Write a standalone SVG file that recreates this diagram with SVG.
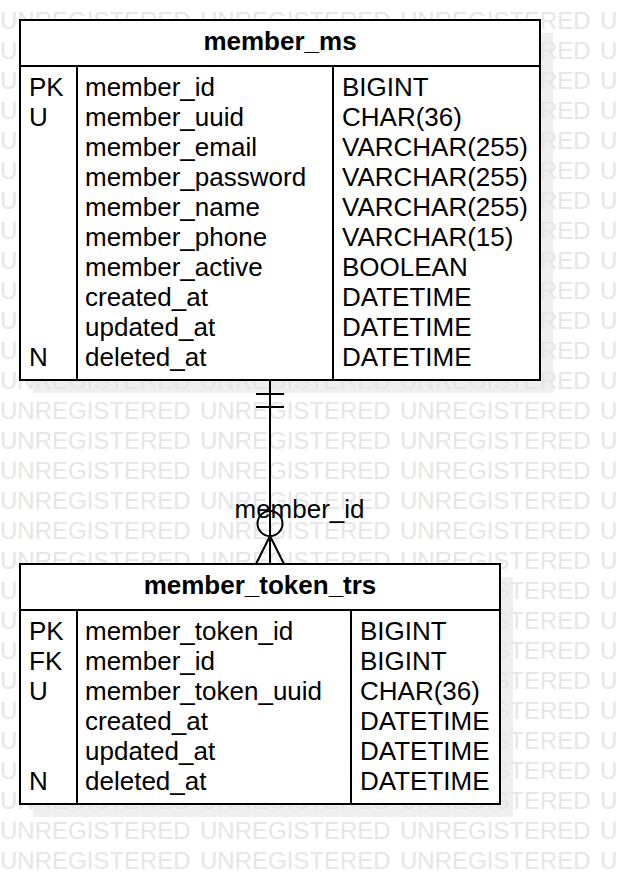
<svg xmlns="http://www.w3.org/2000/svg" width="618" height="884" viewBox="0 0 618 884">
<style>
.wm{font-family:"Liberation Sans",Arial,sans-serif;font-size:24px;fill:#e6e6e6}
.t{font-family:"Liberation Sans",Arial,sans-serif;font-size:26px;fill:#000}
.h{font-family:"Liberation Sans",Arial,sans-serif;font-size:26px;font-weight:bold;fill:#000;text-anchor:middle}
.box{fill:#fff;stroke:#000;stroke-width:2}
.ln{stroke:#000;stroke-width:2;fill:none}
.sh{fill:#efefef}
</style>
<rect width="618" height="884" fill="#fff"/>
<g id="shadows">
<rect class="sh" x="33" y="33" width="520" height="360"/>
<rect class="sh" x="33" y="577" width="480" height="240"/>
</g>
<g id="watermark">
<text class="wm" y="29"><tspan x="0">UNREGISTERED</tspan><tspan x="200">UNREGISTERED</tspan><tspan x="400">UNREGISTERED</tspan><tspan x="600">U</tspan></text>
<text class="wm" y="59"><tspan x="0">U</tspan><tspan x="540">RED</tspan><tspan x="600">U</tspan></text>
<text class="wm" y="89"><tspan x="0">U</tspan><tspan x="540">RED</tspan><tspan x="600">U</tspan></text>
<text class="wm" y="119"><tspan x="0">U</tspan><tspan x="540">RED</tspan><tspan x="600">U</tspan></text>
<text class="wm" y="149"><tspan x="0">U</tspan><tspan x="540">RED</tspan><tspan x="600">U</tspan></text>
<text class="wm" y="179"><tspan x="0">U</tspan><tspan x="540">RED</tspan><tspan x="600">U</tspan></text>
<text class="wm" y="209"><tspan x="0">U</tspan><tspan x="540">RED</tspan><tspan x="600">U</tspan></text>
<text class="wm" y="239"><tspan x="0">U</tspan><tspan x="540">RED</tspan><tspan x="600">U</tspan></text>
<text class="wm" y="269"><tspan x="0">U</tspan><tspan x="540">RED</tspan><tspan x="600">U</tspan></text>
<text class="wm" y="299"><tspan x="0">U</tspan><tspan x="540">RED</tspan><tspan x="600">U</tspan></text>
<text class="wm" y="329"><tspan x="0">U</tspan><tspan x="540">RED</tspan><tspan x="600">U</tspan></text>
<text class="wm" y="359"><tspan x="0">U</tspan><tspan x="540">RED</tspan><tspan x="600">U</tspan></text>
<text class="wm" y="389"><tspan x="0">UNREGISTERED</tspan><tspan x="200">UNREGISTERED</tspan><tspan x="400">UNREGISTERED</tspan><tspan x="600">U</tspan></text>
<text class="wm" y="419"><tspan x="0">UNREGISTERED</tspan><tspan x="200">UNREGISTERED</tspan><tspan x="400">UNREGISTERED</tspan><tspan x="600">U</tspan></text>
<text class="wm" y="449"><tspan x="0">UNREGISTERED</tspan><tspan x="200">UNREGISTERED</tspan><tspan x="400">UNREGISTERED</tspan><tspan x="600">U</tspan></text>
<text class="wm" y="479"><tspan x="0">UNREGISTERED</tspan><tspan x="200">UNREGISTERED</tspan><tspan x="400">UNREGISTERED</tspan><tspan x="600">U</tspan></text>
<text class="wm" y="509"><tspan x="0">UNREGISTERED</tspan><tspan x="200">UNREGISTERED</tspan><tspan x="400">UNREGISTERED</tspan><tspan x="600">U</tspan></text>
<text class="wm" y="539"><tspan x="0">UNREGISTERED</tspan><tspan x="200">UNREGISTERED</tspan><tspan x="400">UNREGISTERED</tspan><tspan x="600">U</tspan></text>
<text class="wm" y="569"><tspan x="0">UNREGISTERED</tspan><tspan x="200">UNREGISTERED</tspan><tspan x="400">UNREGISTERED</tspan><tspan x="600">U</tspan></text>
<text class="wm" y="599"><tspan x="0">U</tspan><tspan x="493.3">STERED</tspan><tspan x="600">U</tspan></text>
<text class="wm" y="629"><tspan x="0">U</tspan><tspan x="493.3">STERED</tspan><tspan x="600">U</tspan></text>
<text class="wm" y="659"><tspan x="0">U</tspan><tspan x="493.3">STERED</tspan><tspan x="600">U</tspan></text>
<text class="wm" y="689"><tspan x="0">U</tspan><tspan x="493.3">STERED</tspan><tspan x="600">U</tspan></text>
<text class="wm" y="719"><tspan x="0">U</tspan><tspan x="493.3">STERED</tspan><tspan x="600">U</tspan></text>
<text class="wm" y="749"><tspan x="0">U</tspan><tspan x="493.3">STERED</tspan><tspan x="600">U</tspan></text>
<text class="wm" y="779"><tspan x="0">U</tspan><tspan x="493.3">STERED</tspan><tspan x="600">U</tspan></text>
<text class="wm" y="809"><tspan x="0">UNREGISTERED</tspan><tspan x="200">UNREGISTERED</tspan><tspan x="400">UNREGISTERED</tspan><tspan x="600">U</tspan></text>
<text class="wm" y="839"><tspan x="0">UNREGISTERED</tspan><tspan x="200">UNREGISTERED</tspan><tspan x="400">UNREGISTERED</tspan><tspan x="600">U</tspan></text>
<text class="wm" y="869"><tspan x="0">UNREGISTERED</tspan><tspan x="200">UNREGISTERED</tspan><tspan x="400">UNREGISTERED</tspan><tspan x="600">U</tspan></text>
</g>
<g id="connectors">
<line class="ln" x1="270" y1="380" x2="270" y2="564"/>
<line class="ln" x1="256" y1="394" x2="284" y2="394"/>
<line class="ln" x1="256" y1="407" x2="284" y2="407"/>
<circle class="ln" cx="270" cy="523.5" r="12.5" fill="#fff"/>
<path class="ln" d="M270,536 L256,564 M270,536 L284,564"/>
<text class="t" x="234.5" y="518">member_id</text>
</g>
<g id="member_ms">
<rect class="box" x="20" y="20" width="520" height="360"/>
<line class="ln" x1="20" y1="66" x2="540" y2="66"/>
<line class="ln" x1="77" y1="66" x2="77" y2="380"/>
<line class="ln" x1="333" y1="66" x2="333" y2="380"/>
<text class="h" x="280" y="49.5">member_ms</text>
<text class="t" x="29" y="96">PK</text>
<text class="t" x="29" y="126">U</text>
<text class="t" x="29" y="366">N</text>
<text class="t" x="85" y="96">member_id</text>
<text class="t" x="85" y="126">member_uuid</text>
<text class="t" x="85" y="156">member_email</text>
<text class="t" x="85" y="186">member_password</text>
<text class="t" x="85" y="216">member_name</text>
<text class="t" x="85" y="246">member_phone</text>
<text class="t" x="85" y="276">member_active</text>
<text class="t" x="85" y="306">created_at</text>
<text class="t" x="85" y="336">updated_at</text>
<text class="t" x="85" y="366">deleted_at</text>
<text class="t" x="342" y="96">BIGINT</text>
<text class="t" x="342" y="126">CHAR(36)</text>
<text class="t" x="342" y="156">VARCHAR(255)</text>
<text class="t" x="342" y="186">VARCHAR(255)</text>
<text class="t" x="342" y="216">VARCHAR(255)</text>
<text class="t" x="342" y="246">VARCHAR(15)</text>
<text class="t" x="342" y="276">BOOLEAN</text>
<text class="t" x="342" y="306">DATETIME</text>
<text class="t" x="342" y="336">DATETIME</text>
<text class="t" x="342" y="366">DATETIME</text>
</g>
<g id="member_token_trs">
<rect class="box" x="20" y="564" width="480" height="240"/>
<line class="ln" x1="20" y1="610" x2="500" y2="610"/>
<line class="ln" x1="77" y1="610" x2="77" y2="804"/>
<line class="ln" x1="351" y1="610" x2="351" y2="804"/>
<text class="h" x="260" y="593.5">member_token_trs</text>
<text class="t" x="29" y="640">PK</text>
<text class="t" x="29" y="670">FK</text>
<text class="t" x="29" y="700">U</text>
<text class="t" x="29" y="790">N</text>
<text class="t" x="85" y="640">member_token_id</text>
<text class="t" x="85" y="670">member_id</text>
<text class="t" x="85" y="700">member_token_uuid</text>
<text class="t" x="85" y="730">created_at</text>
<text class="t" x="85" y="760">updated_at</text>
<text class="t" x="85" y="790">deleted_at</text>
<text class="t" x="360" y="640">BIGINT</text>
<text class="t" x="360" y="670">BIGINT</text>
<text class="t" x="360" y="700">CHAR(36)</text>
<text class="t" x="360" y="730">DATETIME</text>
<text class="t" x="360" y="760">DATETIME</text>
<text class="t" x="360" y="790">DATETIME</text>
</g>
</svg>
